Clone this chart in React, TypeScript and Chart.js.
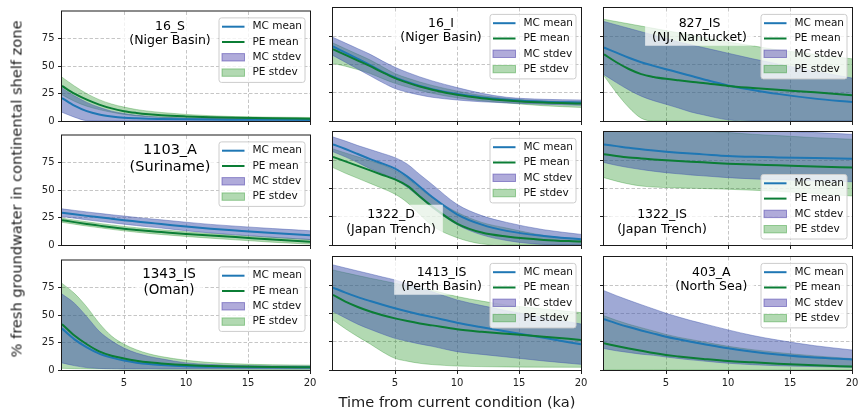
import React, { useEffect, useRef } from "react";
import { Chart, registerables } from "chart.js";

Chart.register(...registerables);
Chart.defaults.font.family = "'DejaVu Sans', sans-serif";

// ---------------- data ----------------
const X_KA = [0, 1, 2, 3, 4, 5, 6, 7, 8, 10, 12, 14, 17, 20];
const X_TICKS = [5, 10, 15, 20];
const Y_TICKS = [0, 25, 50, 75];
const LEGEND_LABELS = ["MC mean", "PE mean", "MC stdev", "PE stdev"];
const SITE_IDS = ["16_S", "16_I", "827_IS", "1103_A", "1322_D", "1322_IS", "1343_IS", "1413_IS", "403_A"];
const SITE_REGIONS = ["(Niger Basin)", "(Niger Basin)", "(NJ, Nantucket)", "(Suriname)", "(Japan Trench)", "(Japan Trench)", "(Oman)", "(Perth Basin)", "(North Sea)"];
const X_LABEL = "Time from current condition (ka)";
const Y_LABEL = "% fresh groundwater in continental shelf zone";

// 16_S
const MC_MEAN_16S = [21, 14, 9, 6, 4.2, 3, 2.4, 2, 1.8, 1.5, 1.3, 1.2, 1.1, 1.0];
const MC_LO_16S = [8, 3.5, 0.3, 0, 0, 0, 0, 0, 0, 0, 0, 0, 0, 0];
const MC_UP_16S = [30, 23, 17, 12.5, 9, 6.8, 5.2, 4.2, 3.5, 2.8, 2.4, 2.2, 2.0, 1.9];
const PE_MEAN_16S = [32, 25, 19.5, 15, 11.5, 9, 7.4, 6.2, 5.3, 4.2, 3.4, 2.9, 2.4, 2.1];
const PE_LO_16S = [24, 18, 13.5, 10.4, 8, 6, 4.8, 4, 3.3, 2.4, 1.9, 1.6, 1.3, 1.2];
const PE_UP_16S = [40, 32, 25, 19.5, 15.5, 12.7, 10.5, 9, 7.8, 6, 4.8, 4, 3.5, 3.2];

// 16_I
const MC_MEAN_16I = [66, 60.5, 55, 49.5, 43.5, 38.5, 34.5, 31, 28.2, 23.8, 20.8, 18.8, 17, 16.3];
const MC_LO_16I = [58, 52, 46, 40, 34, 28.7, 25.5, 23, 21, 18.6, 17, 16, 14.8, 13.9];
const MC_UP_16I = [74, 69, 64, 59, 53, 47.5, 43, 39, 35.5, 29.6, 24.5, 21, 19.2, 18.6];
const PE_MEAN_16I = [63.5, 58.5, 53.5, 48.5, 43, 38, 34, 30.5, 27.7, 23.2, 20.2, 18.2, 16.3, 15.4];
const PE_LO_16I = [51, 48.5, 45.5, 42, 37.5, 33.3, 30, 27, 24.5, 20.5, 17.8, 16, 13.5, 12];
const PE_UP_16I = [69, 64, 59, 54, 48, 42, 38, 34.5, 31.5, 26.5, 22.5, 20, 17.8, 17];

// 827_IS
const MC_MEAN_827 = [65, 60.5, 56, 52, 48.8, 45.8, 43, 40, 37, 31.5, 27.5, 24, 19.8, 16.8];
const MC_LO_827 = [41, 34, 27.5, 22, 18, 14.8, 11.5, 8, 5.5, 1, 0, 0, 0, 0];
const MC_UP_827 = [88, 85, 82, 79, 76, 73, 70, 67.5, 65, 60, 55, 50.5, 44, 38];
const PE_MEAN_827 = [59, 52, 46, 41.5, 39, 37.3, 36, 34.8, 33.7, 31, 29.2, 27.6, 25.4, 22.8];
const PE_LO_827 = [40, 25, 12, 2.5, 0, 0, 0, 0, 0, 0, 0, 0, 0, 0];
const PE_UP_827 = [90, 88, 86, 84, 82, 80, 78, 76, 74, 70, 66.5, 63, 59, 55];

// 1103_A
const MC_MEAN_1103 = [29.5, 28, 26.6, 25.3, 24, 22.7, 21.5, 20.3, 19.2, 16.8, 14.8, 13.2, 10.9, 8.9];
const MC_LO_1103 = [26, 24.5, 23, 21.6, 20.3, 19, 17.8, 16.6, 15.5, 13, 11, 9.3, 7, 5];
const MC_UP_1103 = [33, 31.6, 30.2, 28.9, 27.6, 26.4, 25.2, 24, 23, 20.8, 18.8, 17.2, 15, 13];
const PE_MEAN_1103 = [22.7, 20.9, 19.2, 17.7, 16.2, 14.8, 13.7, 12.7, 11.8, 10, 8.6, 7.2, 5, 3];
const PE_LO_1103 = [20.7, 19, 17.3, 15.8, 14.3, 12.9, 11.7, 10.6, 9.6, 7.8, 6.2, 4.7, 2.5, 0.8];
const PE_UP_1103 = [24.5, 22.8, 21.2, 19.7, 18.3, 17, 15.8, 14.8, 13.9, 12.1, 10.5, 9, 7, 5];

// 1322_D
const MC_MEAN_1322D = [89, 85, 80.5, 76, 72, 67.6, 60.5, 51.5, 42.5, 27.2, 18, 12.5, 8, 5];
const MC_LO_1322D = [82.5, 78, 73, 67.5, 63, 58, 51, 42, 33, 18, 9, 4, 0.5, 0];
const MC_UP_1322D = [95.6, 92, 88, 84.5, 81, 77.3, 71.5, 62.4, 53.6, 36, 26, 20, 13.5, 9.4];
const PE_MEAN_1322D = [78, 74, 70, 66, 62, 58, 52.3, 43, 34, 19, 11, 7.5, 4.5, 3];
const PE_LO_1322D = [68.5, 63.5, 59, 54.5, 50, 45, 37.5, 27, 17, 6.5, 1, 0, 0, 0];
const PE_UP_1322D = [85, 81.5, 78, 74.5, 71, 66, 59, 50, 42, 29, 20, 15, 8.5, 5];

// 1322_IS
const MC_MEAN_1322IS = [89, 87.5, 86, 84.8, 83.6, 82.6, 81.7, 80.9, 80.2, 78.8, 78, 77.5, 76.9, 76.4];
const MC_LO_1322IS = [73, 70.5, 68.5, 66.8, 65.3, 64, 63, 62, 61.2, 59.6, 58.5, 57.8, 56.8, 56];
const MC_UP_1322IS = [112, 111, 110, 109, 108, 107, 106.3, 105.6, 105, 103.5, 102, 101, 99.5, 98];
const PE_MEAN_1322IS = [80.3, 78.8, 77.5, 76.6, 75.7, 75, 74.3, 73.7, 73.2, 72, 71.2, 70.6, 69.5, 68.5];
const PE_LO_1322IS = [59.6, 56.5, 54, 52.2, 51.3, 50.8, 50.5, 50.2, 50, 49.3, 48.5, 47.5, 45.5, 43.4];
const PE_UP_1322IS = [108, 107, 106, 105, 104, 103, 102.3, 101.6, 101, 99.5, 98, 96.8, 95, 93.6];

// 1343_IS
const MC_MEAN_1343 = [37.8, 28, 20.7, 15, 11.3, 8.6, 6.7, 5.4, 4.6, 3.5, 3, 2.7, 2.5, 2.4];
const MC_LO_1343 = [6.5, 4, 2.2, 1.4, 1.1, 1, 1, 1, 1, 1, 1, 1, 1, 1];
const MC_UP_1343 = [69.4, 61, 48.7, 35.4, 26.6, 20, 15.5, 12.4, 10.2, 6.5, 5, 4.2, 3.7, 3.5];
const PE_MEAN_1343 = [41.9, 31.5, 23.5, 17, 13, 10.5, 8.5, 7, 6, 4.5, 3.7, 3.2, 2.7, 2.4];
const PE_LO_1343 = [1.5, 1.2, 1, 0.9, 0.8, 0.7, 0.6, 0.6, 0.5, 0.5, 0.5, 0.5, 0.5, 0.5];
const PE_UP_1343 = [79.1, 70, 57.6, 42.8, 31, 23.6, 18.5, 14.8, 12.3, 8.9, 6.8, 5.6, 4.8, 4.4];

// 1413_IS
const MC_MEAN_1413 = [72.9, 68.5, 64.5, 61, 57.7, 54.6, 51.8, 49.2, 46.8, 41.9, 37.8, 34, 28.5, 22.7];
const MC_LO_1413 = [51.7, 46, 40.5, 36, 31.8, 28, 25.4, 23, 21, 16.2, 13.8, 11.5, 8, 5];
const MC_UP_1413 = [93, 90.3, 87.6, 85, 82.3, 79.7, 76.3, 72.8, 69.3, 62, 57, 52.5, 46.5, 40.7];
const PE_MEAN_1413 = [66.4, 60.5, 55.8, 51.8, 48.5, 45.7, 43.3, 41.2, 39.5, 36, 33.8, 32, 29.5, 26.6];
const PE_LO_1413 = [44.3, 36.5, 29.5, 23, 16, 10.3, 7.8, 5.9, 4.8, 3.5, 3, 2.7, 2.5, 2.4];
const PE_UP_1413 = [88.5, 86, 83.6, 81.2, 79, 76.7, 74.5, 72.5, 70.5, 65, 61, 57.5, 54, 50.8];

// 403_A
const MC_MEAN_403 = [44.9, 41.3, 38, 35, 32.2, 29.5, 27.2, 25, 23, 19.2, 16.2, 13.8, 11, 9.4];
const MC_LO_403 = [19, 17, 15.5, 14, 13, 11.5, 10.2, 9, 8, 6, 4.7, 3.8, 3, 2.4];
const MC_UP_403 = [70.2, 65.8, 61.7, 57.8, 54, 50.2, 46.9, 43.8, 41, 35.5, 30.5, 26.5, 21.5, 17.7];
const PE_MEAN_403 = [23.6, 21.2, 19, 17, 15, 13.3, 12, 10.8, 9.8, 8, 6.8, 5.6, 4.2, 3];
const PE_LO_403 = [0, 0, 0, 0, 0, 0, 0, 0, 0, 0, 0, 0, 0, 0];
const PE_UP_403 = [48, 44, 40.5, 37.5, 34.5, 31.5, 29, 27, 25, 21, 18, 15.5, 12.5, 10];

const SITES = [
  { mcMean: MC_MEAN_16S, mcLo: MC_LO_16S, mcUp: MC_UP_16S, peMean: PE_MEAN_16S, peLo: PE_LO_16S, peUp: PE_UP_16S },
  { mcMean: MC_MEAN_16I, mcLo: MC_LO_16I, mcUp: MC_UP_16I, peMean: PE_MEAN_16I, peLo: PE_LO_16I, peUp: PE_UP_16I },
  { mcMean: MC_MEAN_827, mcLo: MC_LO_827, mcUp: MC_UP_827, peMean: PE_MEAN_827, peLo: PE_LO_827, peUp: PE_UP_827 },
  { mcMean: MC_MEAN_1103, mcLo: MC_LO_1103, mcUp: MC_UP_1103, peMean: PE_MEAN_1103, peLo: PE_LO_1103, peUp: PE_UP_1103 },
  { mcMean: MC_MEAN_1322D, mcLo: MC_LO_1322D, mcUp: MC_UP_1322D, peMean: PE_MEAN_1322D, peLo: PE_LO_1322D, peUp: PE_UP_1322D },
  { mcMean: MC_MEAN_1322IS, mcLo: MC_LO_1322IS, mcUp: MC_UP_1322IS, peMean: PE_MEAN_1322IS, peLo: PE_LO_1322IS, peUp: PE_UP_1322IS },
  { mcMean: MC_MEAN_1343, mcLo: MC_LO_1343, mcUp: MC_UP_1343, peMean: PE_MEAN_1343, peLo: PE_LO_1343, peUp: PE_UP_1343 },
  { mcMean: MC_MEAN_1413, mcLo: MC_LO_1413, mcUp: MC_UP_1413, peMean: PE_MEAN_1413, peLo: PE_LO_1413, peUp: PE_UP_1413 },
  { mcMean: MC_MEAN_403, mcLo: MC_LO_403, mcUp: MC_UP_403, peMean: PE_MEAN_403, peLo: PE_LO_403, peUp: PE_UP_403 },
];

// ---------------- layout / style ----------------
const PANEL_W = 248;
const PANEL_H = 113;
const COL_LEFT = [62, 333, 604];
const ROW_TOP = [8, 132, 257];
const PAD_L = 45;
const PAD_T = 6;
const PAD_R = 10;
const PAD_B = 22;

const MC_LINE = "#1f77b4";
const PE_LINE = "#0b7d35";
const MC_FILL = "rgba(64,84,172,0.5)";
const MC_EDGE = "rgba(64,84,172,0.55)";
const PE_FILL = "rgba(0,128,0,0.3)";
const PE_EDGE = "rgba(0,128,0,0.35)";
const LEGEND_MC_PATCH = "rgba(80,68,172,0.45)";
const LEGEND_MC_PATCH_EDGE = "rgba(80,68,172,0.55)";
const FONT = "'DejaVu Sans', sans-serif";

// title placement (offsets from plot area top-left)
const TITLE_LAYOUT = [
  { x: 108, y1: 15.5, y2: 29.5, fs: 12.5 },
  { x: 108, y1: 15.5, y2: 29.5, fs: 12.5 },
  { x: 95.5, y1: 15.5, y2: 29.5, fs: 12.5 },
  { x: 108, y1: 14.7, y2: 31.3, fs: 14.5 },
  { x: 58, y1: 83, y2: 97.3, fs: 12.5 },
  { x: 58, y1: 83, y2: 97.3, fs: 12.5 },
  { x: 107, y1: 13.7, y2: 29.7, fs: 13.5 },
  { x: 108.5, y1: 15.5, y2: 29.5, fs: 12.5 },
  { x: 107.3, y1: 15.5, y2: 29.5, fs: 12.5 },
];
const LEGEND_BOTTOM = [false, false, false, false, false, true, false, false, false];

function drawLegend(ctx: CanvasRenderingContext2D, a: any, bottom: boolean) {
  const w = 86;
  const h = 64.5;
  const x0 = a.right - 5 - w;
  const y0 = bottom ? a.bottom - 6 - h : a.top + 6.4;
  ctx.save();
  ctx.beginPath();
  const r = 2.5;
  ctx.moveTo(x0 + r, y0);
  ctx.arcTo(x0 + w, y0, x0 + w, y0 + h, r);
  ctx.arcTo(x0 + w, y0 + h, x0, y0 + h, r);
  ctx.arcTo(x0, y0 + h, x0, y0, r);
  ctx.arcTo(x0, y0, x0 + w, y0, r);
  ctx.closePath();
  ctx.fillStyle = "rgba(255,255,255,0.8)";
  ctx.fill();
  ctx.strokeStyle = "#cccccc";
  ctx.lineWidth = 1;
  ctx.stroke();
  ctx.font = `10.5px ${FONT}`;
  ctx.textAlign = "left";
  ctx.textBaseline = "middle";
  for (let i = 0; i < 4; i++) {
    const cy = y0 + 8.8 + i * 15.3;
    if (i < 2) {
      ctx.strokeStyle = i === 0 ? MC_LINE : PE_LINE;
      ctx.lineWidth = 2;
      ctx.beginPath();
      ctx.moveTo(x0 + 3, cy);
      ctx.lineTo(x0 + 25.5, cy);
      ctx.stroke();
    } else {
      ctx.fillStyle = i === 2 ? LEGEND_MC_PATCH : PE_FILL;
      ctx.fillRect(x0 + 3, cy - 3.7, 22.5, 7.4);
      ctx.strokeStyle = i === 2 ? LEGEND_MC_PATCH_EDGE : PE_EDGE;
      ctx.lineWidth = 1;
      ctx.strokeRect(x0 + 3, cy - 3.7, 22.5, 7.4);
    }
    ctx.fillStyle = "#111";
    ctx.fillText(LEGEND_LABELS[i], x0 + 33.5, cy);
  }
  ctx.restore();
}

function Panel({ idx }: { idx: number }) {
  const ref = useRef<HTMLCanvasElement | null>(null);
  const row = Math.floor(idx / 3);
  const col = idx % 3;
  const left = COL_LEFT[col] - PAD_L;
  const top = ROW_TOP[row] - PAD_T;
  const w = PAD_L + PANEL_W + PAD_R;
  const h = PAD_T + PANEL_H + PAD_B;
  const showX = row === 2;
  const showY = col === 0;

  useEffect(() => {
    const s = SITES[idx];
    const pts = (arr: number[]) => X_KA.map((x, i) => ({ x, y: arr[i] }));
    const base = { pointRadius: 0, pointHoverRadius: 0, cubicInterpolationMode: "monotone" as const, clip: 0 };
    const decor = {
      id: "decor" + idx,
      afterDatasetsDraw(chart: any) {
        const ctx = chart.ctx as CanvasRenderingContext2D;
        const a = chart.chartArea;
        ctx.save();
        ctx.strokeStyle = "#1a1a1a";
        ctx.lineWidth = 1;
        ctx.strokeRect(a.left - 0.5, a.top - 0.5, a.right - a.left + 1, a.bottom - a.top + 1);
        const t = TITLE_LAYOUT[idx];
        ctx.font = `${t.fs}px ${FONT}`;
        const lines = [SITE_IDS[idx], SITE_REGIONS[idx]];
        const tw = Math.max(...lines.map((l) => ctx.measureText(l).width));
        const cx = a.left + t.x;
        const y1 = a.top + t.y1;
        const y2 = a.top + t.y2;
        ctx.fillStyle = "rgba(255,255,255,0.75)";
        ctx.fillRect(cx - tw / 2 - 7, y1 - t.fs * 0.5 - 4, tw + 14, y2 - y1 + t.fs + 6);
        ctx.fillStyle = "#000";
        ctx.textAlign = "center";
        ctx.textBaseline = "middle";
        ctx.fillText(lines[0], cx, y1);
        ctx.fillText(lines[1], cx, y2);
        ctx.restore();
        drawLegend(ctx, a, LEGEND_BOTTOM[idx]);
      },
    };
    const gridCommon = {
      color: "#b8b8b8",
      lineWidth: 0.8,
      drawTicks: true,
      tickLength: 4,
      tickColor: "#222",
      tickWidth: 1,
    };
    const chart = new Chart(ref.current as HTMLCanvasElement, {
      type: "line",
      data: {
        datasets: [
          { ...base, label: "MC stdev", data: pts(s.mcUp), borderColor: MC_EDGE, borderWidth: 0.8, backgroundColor: MC_FILL, fill: "+1", order: 2 },
          { ...base, label: "MC stdev lo", data: pts(s.mcLo), borderColor: MC_EDGE, borderWidth: 0.8, fill: false, order: 2 },
          { ...base, label: "PE stdev", data: pts(s.peUp), borderColor: PE_EDGE, borderWidth: 0.8, backgroundColor: PE_FILL, fill: "+1", order: 3 },
          { ...base, label: "PE stdev lo", data: pts(s.peLo), borderColor: PE_EDGE, borderWidth: 0.8, fill: false, order: 3 },
          { ...base, label: "MC mean", data: pts(s.mcMean), borderColor: MC_LINE, borderWidth: 2, fill: false, order: 1 },
          { ...base, label: "PE mean", data: pts(s.peMean), borderColor: PE_LINE, borderWidth: 2, fill: false, order: 0 },
        ],
      },
      options: {
        animation: false,
        responsive: false,
        events: [],
        layout: { padding: { left: 0, top: PAD_T, right: PAD_R, bottom: 0 } },
        plugins: { legend: { display: false }, tooltip: { enabled: false } },
        scales: {
          x: {
            type: "linear",
            min: 0,
            max: 20,
            afterBuildTicks: (sc: any) => {
              sc.ticks = X_TICKS.map((v) => ({ value: v }));
            },
            afterFit: (sc: any) => {
              sc.height = PAD_B;
            },
            grid: gridCommon,
            border: { display: false, dash: [3.5, 2] },
            ticks: { display: showX, color: "#222", font: { size: 10, family: FONT }, padding: 3, maxRotation: 0, autoSkip: false },
          },
          y: {
            type: "linear",
            min: 0,
            max: 100,
            afterBuildTicks: (sc: any) => {
              sc.ticks = Y_TICKS.map((v) => ({ value: v }));
            },
            afterFit: (sc: any) => {
              sc.width = PAD_L;
            },
            grid: gridCommon,
            border: { display: false, dash: [3.5, 2] },
            ticks: { display: showY, color: "#222", font: { size: 10, family: FONT }, padding: 3.5, autoSkip: false },
          },
        },
      },
      plugins: [decor],
    } as any);
    return () => chart.destroy();
  }, [idx]);

  return (
    <canvas
      ref={ref}
      width={w}
      height={h}
      style={{ position: "absolute", left, top, width: w, height: h }}
    />
  );
}

export default function App() {
  return (
    <div style={{ position: "absolute", left: 0, top: 0, width: 859, height: 413, background: "#fff", overflow: "hidden", fontFamily: FONT }}>
      {SITES.map((_, i) => (
        <Panel key={i} idx={i} />
      ))}
      <div
        style={{
          position: "absolute",
          left: 16,
          top: 189,
          transform: "translate(-50%, -50%) rotate(-90deg)",
          whiteSpace: "nowrap",
          fontSize: 14.6,
          fontWeight: 400,
          color: "#1a1a1a",
        }}
      >
        {Y_LABEL}
      </div>
      <div
        style={{
          position: "absolute",
          left: 457,
          top: 401,
          transform: "translate(-50%, -50%)",
          whiteSpace: "nowrap",
          fontSize: 14.6,
          fontWeight: 400,
          color: "#1a1a1a",
        }}
      >
        {X_LABEL}
      </div>
    </div>
  );
}
